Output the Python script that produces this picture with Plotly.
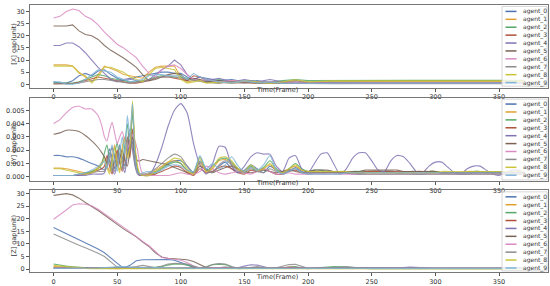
import plotly.graph_objects as go

AGENTS = ["agent_0", "agent_1", "agent_2", "agent_3", "agent_4",
          "agent_5", "agent_6", "agent_7", "agent_8", "agent_9"]
COLORS = ["#4c72b0", "#e0a030", "#55a868", "#b0503a", "#8172b3",
          "#7a6355", "#da8bc3", "#8c8c8c", "#c9c43a", "#7fb5d8"]

X_TICKS = [0, 50, 100, 150, 200, 250, 300, 350]

# ---- [X] gap ----
X_FRAMES = [0, 5, 10, 15, 20, 25, 30, 35, 40, 45, 50, 55, 60, 65, 70, 75, 80, 85, 90, 95,
            100, 105, 110, 115, 120, 130, 140, 150, 160, 170, 180, 190, 200,
            220, 250, 280, 310, 340, 370]
X_GAP_0 = [1, 0.5, 0.5, 1.5, 3.5, 4.5, 3.5, 5.5, 6, 4, 2.5, 1.5, 2, 3, 3.5, 4, 4.5, 5, 5, 4.5, 4.5, 3, 2, 3, 2.5,
           1.5, 2, 1, 1.5, 0.5, 1, 0.5, 0.8, 0.6, 0.6, 0.6, 0.6, 0.6, 0.6]
X_GAP_1 = [8, 8, 8, 7.5, 5, 3, 1, 4, 7.5, 6.5, 5.5, 4, 3.5, 3, 2.5, 5, 7, 7.5, 7.5, 7.5, 3, 1, 1.5, 2, 1,
           0.5, 1.5, 0.8, 0.3, 1, 0.5, 1.5, 0.8, 1.2, 1.2, 1.2, 1.2, 1.2, 1.2]
X_GAP_2 = [0.5, 0.5, 0.3, 0.5, 1, 2, 3, 4, 3.5, 2.5, 2, 1.5, 1, 1, 1.5, 2, 3, 3.5, 3.5, 3, 3, 2.5, 2, 1.5, 1,
           2, 1, 1.5, 1.2, 0.8, 1.5, 2, 1.5, 1.6, 1.6, 1.6, 1.6, 1.6, 1.6]
X_GAP_3 = [0.2, 0.2, 0.2, 0.3, 0.8, 1.5, 2.5, 3, 2.5, 2, 1.5, 1, 0.5, 0.5, 1, 1.5, 2.5, 3, 3, 2.5, 2, 1.5, 3.5, 3, 2,
           1, 0.5, 0.8, 0.4, 0.6, 0.3, 0.5, 0.3, 0.3, 0.3, 0.3, 0.3, 0.3, 0.3]
X_GAP_4 = [16, 16, 17, 17, 15.5, 13, 10, 7, 4.5, 2, 1, 2, 2.5, 1.5, 1, 2, 4, 6, 7.5, 10, 8, 4, 2, 3, 1.5,
           2.5, 1, 2, 1, 2, 1, 1.5, 0.8, 0.5, 0.5, 0.5, 0.5, 0.5, 0.5]
X_GAP_5 = [24, 24, 24, 24.5, 22, 20.5, 20, 18.5, 16, 14, 12.5, 10.8, 9, 7, 4, 1.5, 2, 3, 4, 4.5, 4, 1.5, 2.5, 2, 1,
           1.5, 0.8, 1.2, 0.5, 1, 0.5, 0.8, 0.4, 0.4, 0.4, 0.4, 0.4, 0.4, 0.4]
X_GAP_6 = [27.3, 28, 30, 31, 30.4, 28, 26.8, 24.5, 21.5, 19, 16.5, 15, 13, 11, 7.5, 4.5, 3, 6, 7.5, 8, 6.5, 4, 2, 1.5, 2,
           1, 1.5, 1, 0.8, 1, 0.6, 0.8, 0.5, 0.5, 0.5, 0.5, 0.5, 0.5, 0.5]
X_GAP_7 = [0.1, 0.1, 0.1, 0.2, 0.5, 1, 1.5, 2, 2, 1.5, 1, 0.8, 0.5, 0.8, 1.2, 2, 2.5, 3, 3, 3, 2.5, 2, 1.5, 1, 0.8,
           0.5, 1, 0.5, 0.8, 0.3, 0.5, 0.3, 0.2, 0.2, 0.2, 0.2, 0.2, 0.2, 0.2]
X_GAP_8 = [7.5, 7.5, 7.5, 7.5, 4.5, 3.5, 0.5, 3, 7, 7, 6, 5, 3, 2, 1, 4, 6.5, 7, 6.5, 6, 2, 0.5, 1, 1.5, 0.5,
           1, 0.5, 1.5, 1, 0.3, 1, 1.8, 1, 1.4, 1.4, 1.4, 1.4, 1.4, 1.4]
X_GAP_9 = [1, 1, 0, 0, 0.5, 2, 4, 6, 5.5, 5, 3, 2, 1, 1.5, 2, 3.5, 4, 4, 3.5, 3.5, 3.5, 2, 4.5, 3, 2,
           1, 0.5, 1.5, 0.5, 1, 0.3, 0.5, 0.3, 0.4, 0.4, 0.4, 0.4, 0.4, 0.4]

# ---- [Y] gap ----
Y_FRAMES = [0, 5, 10, 15, 20, 25, 30, 35, 38, 40, 42, 44, 46, 48, 50, 52, 54, 56, 58, 60, 62, 64, 66, 68, 70,
            75, 80, 85, 90, 95, 100, 105, 110, 115, 120, 125, 130, 135, 140, 145, 150, 155, 160, 165, 170,
            175, 180, 185, 190, 195, 200,
            205, 210, 215, 220, 225, 230, 235, 240, 245, 250, 255, 260, 265, 270, 275, 280, 285,
            290, 295, 300, 305, 310, 315, 320, 325, 330, 335, 340, 345, 350, 355, 360, 365, 370]
Y_GAP_0 = [0.0016, 0.0016, 0.0015, 0.0015, 0.0014, 0.0012, 0.0010, 0.0008, 0.0006, 0.0005, 0.0012, 0.0021, 0.0014, 0.0006, 0.0015, 0.0024, 0.0015, 0.0008, 0.0020, 0.0033, 0.0026, 0.0012, 0.0004, 0.0002, 0.0001,
           0.0002, 0.0004, 0.0007, 0.0010, 0.0012, 0.0012, 0.0008, 0.0003, 0.0012, 0.0006, 0.0004, 0.0008, 0.0011, 0.0006, 0.0003, 0.0005, 0.0009, 0.0006, 0.0003, 0.0008, 0.0005, 0.0002, 0.0004, 0.0007, 0.0004, 0.0003,
           0.0003, 0.0003, 0.0004, 0.0004, 0.0003, 0.0003, 0.0002, 0.0002, 0.0003, 0.0004, 0.0004, 0.0004, 0.0004, 0.0003, 0.0003, 0.0003, 0.0002,
           0.0002, 0.0003, 0.0003, 0.0003, 0.0003, 0.0003, 0.0002, 0.0002, 0.0003, 0.0003, 0.0003, 0.0003, 0.0003, 0.0003, 0.0003, 0.0003, 0.0003]
Y_GAP_1 = [0.00065, 0.00065, 0.0006, 0.0005, 0.0004, 0.0003, 0.0004, 0.0007, 0.0011, 0.0015, 0.0009, 0.0004, 0.0014, 0.0024, 0.0012, 0.0005, 0.0022, 0.0030, 0.0016, 0.0024, 0.0052, 0.0022, 0.0006, 0.0001, 0.0001,
           0.0002, 0.0005, 0.0008, 0.0011, 0.0012, 0.0010, 0.0004, 0.0002, 0.0010, 0.0004, 0.0006, 0.0012, 0.0013, 0.0010, 0.0005, 0.0004, 0.0007, 0.0004, 0.0006, 0.0009, 0.0005, 0.0004, 0.0006, 0.0008, 0.0005, 0.0004,
           0.0004, 0.0003, 0.0003, 0.0004, 0.0004, 0.0003, 0.0003, 0.0003, 0.0003, 0.0004, 0.0004, 0.0003, 0.0003, 0.0003, 0.0003, 0.0003, 0.0003,
           0.0004, 0.0004, 0.0004, 0.0003, 0.0003, 0.0003, 0.0003, 0.0004, 0.0004, 0.0004, 0.0003, 0.0003, 0.0003, 0.0003, 0.0004, 0.0004, 0.0004]
Y_GAP_2 = [0.0001, 0.0001, 0.0001, 0.0001, 0.0002, 0.0003, 0.0004, 0.0006, 0.0010, 0.0018, 0.0024, 0.0012, 0.0004, 0.0016, 0.0026, 0.0012, 0.0006, 0.0024, 0.0040, 0.0018, 0.0048, 0.0020, 0.0005, 0.0001, 0.0001,
           0.0001, 0.0003, 0.0006, 0.0009, 0.0011, 0.0010, 0.0005, 0.0003, 0.0015, 0.0005, 0.0008, 0.0013, 0.0014, 0.0011, 0.0006, 0.0004, 0.0008, 0.0005, 0.0007, 0.0012, 0.0006, 0.0003, 0.0006, 0.0010, 0.0006, 0.0004,
           0.0005, 0.0005, 0.0004, 0.0003, 0.0003, 0.0003, 0.0004, 0.0004, 0.0004, 0.0003, 0.0003, 0.0003, 0.0003, 0.0003, 0.0003, 0.0004, 0.0004,
           0.0004, 0.0004, 0.0004, 0.0003, 0.0003, 0.0003, 0.0003, 0.0003, 0.0004, 0.0004, 0.0004, 0.0004, 0.0004, 0.0004, 0.0004, 0.0004, 0.0004]
Y_GAP_3 = [0.0001, 0.0001, 0.0001, 0.0001, 0.0001, 0.0002, 0.0003, 0.0005, 0.0006, 0.0008, 0.0016, 0.0008, 0.0002, 0.0012, 0.0020, 0.0010, 0.0004, 0.0018, 0.0030, 0.0014, 0.0036, 0.0014, 0.0004, 0.0001, 0.0001,
           0.0001, 0.0002, 0.0004, 0.0006, 0.0008, 0.0007, 0.0003, 0.0001, 0.0006, 0.0003, 0.0004, 0.0007, 0.0008, 0.0006, 0.0003, 0.0002, 0.0005, 0.0004, 0.0006, 0.0004, 0.0002, 0.0002, 0.0004, 0.0005, 0.0003, 0.0002,
           0.0003, 0.0003, 0.0003, 0.0003, 0.0003, 0.0003, 0.0003, 0.0003, 0.0004, 0.0004, 0.0004, 0.0004, 0.0004, 0.0004, 0.0004, 0.0004, 0.0004,
           0.0004, 0.0003, 0.0003, 0.0003, 0.0003, 0.0003, 0.0003, 0.0003, 0.0003, 0.0003, 0.0003, 0.0003, 0.0003, 0.0003, 0.0003, 0.0003, 0.0003]
Y_GAP_4 = [0.0001, 0.0001, 0.0001, 0.0001, 0.0001, 0.0001, 0.0002, 0.0002, 0.0002, 0.0003, 0.0008, 0.0013, 0.0006, 0.0002, 0.0010, 0.0018, 0.0009, 0.0003, 0.0016, 0.0028, 0.0020, 0.0008, 0.0002, 0.0001, 0.0001,
           0.0001, 0.0009, 0.0022, 0.0038, 0.0050, 0.0055, 0.0048, 0.0025, 0.0009, 0.0002, 0.0010, 0.0023, 0.0022, 0.0008, 0.0003, 0.0008, 0.0015, 0.0018, 0.0017, 0.0017, 0.0008, 0.0004, 0.0014, 0.0016, 0.0006, 0.0003,
           0.0010, 0.0017, 0.0018, 0.0010, 0.0002, 0.0006, 0.0014, 0.0018, 0.0018, 0.0012, 0.0005, 0.0004, 0.0012, 0.0016, 0.0015, 0.0010, 0.0004,
           0.0003, 0.0008, 0.0011, 0.0011, 0.0007, 0.0003, 0.0002, 0.0006, 0.0008, 0.0008, 0.0005, 0.0002, 0.0001, 0.0003, 0.0005, 0.0005, 0.0003]
Y_GAP_5 = [0.0032, 0.0033, 0.0035, 0.0035, 0.0034, 0.0031, 0.0027, 0.0022, 0.0018, 0.0015, 0.0010, 0.0016, 0.0022, 0.0014, 0.0008, 0.0014, 0.0020, 0.0012, 0.0008, 0.0020, 0.0030, 0.0018, 0.0012, 0.0012, 0.0013,
           0.0012, 0.0011, 0.0010, 0.0009, 0.0007, 0.0005, 0.0003, 0.0002, 0.0008, 0.0005, 0.0003, 0.0005, 0.0007, 0.0008, 0.0006, 0.0004, 0.0003, 0.0004, 0.0005, 0.0004, 0.0003, 0.0004, 0.0005, 0.0004, 0.0003, 0.0004,
           0.0005, 0.0005, 0.0005, 0.0004, 0.0004, 0.0004, 0.0004, 0.0004, 0.0005, 0.0005, 0.0005, 0.0005, 0.0005, 0.0005, 0.0004, 0.0004, 0.0004,
           0.0004, 0.0004, 0.0004, 0.0003, 0.0003, 0.0003, 0.0003, 0.0003, 0.0003, 0.0003, 0.0003, 0.0003, 0.0003, 0.0003, 0.0003, 0.0003, 0.0003]
Y_GAP_6 = [0.0040, 0.0043, 0.0048, 0.0052, 0.0053, 0.0051, 0.0051, 0.0046, 0.0038, 0.0030, 0.0027, 0.0035, 0.0041, 0.0033, 0.0025, 0.0030, 0.0034, 0.0026, 0.0021, 0.0026, 0.0032, 0.0027, 0.0020, 0.0008, 0.0002,
           0.0001, 0.0001, 0.0001, 0.0001, 0.0002, 0.0003, 0.0002, 0.0002, 0.0004, 0.0008, 0.0006, 0.0003, 0.0002, 0.0003, 0.0004, 0.0003, 0.0002, 0.0004, 0.0006, 0.0004, 0.0002, 0.0002, 0.0003, 0.0002, 0.0002, 0.0002,
           0.0002, 0.0002, 0.0002, 0.0002, 0.0002, 0.0002, 0.0002, 0.0002, 0.0002, 0.0002, 0.0002, 0.0002, 0.0002, 0.0002, 0.0002, 0.0002, 0.0002,
           0.0002, 0.0002, 0.0002, 0.0002, 0.0002, 0.0002, 0.0002, 0.0002, 0.0002, 0.0002, 0.0002, 0.0002, 0.0002, 0.0002, 0.0002, 0.0002, 0.0002]
Y_GAP_7 = [0.0001, 0.0001, 0.0001, 0.0001, 0.0002, 0.0002, 0.0003, 0.0004, 0.0004, 0.0004, 0.0010, 0.0018, 0.0010, 0.0004, 0.0014, 0.0022, 0.0012, 0.0006, 0.0026, 0.0036, 0.0022, 0.0010, 0.0003, 0.0002, 0.0002,
           0.0003, 0.0006, 0.0010, 0.0014, 0.0017, 0.0015, 0.0008, 0.0003, 0.0011, 0.0005, 0.0003, 0.0009, 0.0012, 0.0009, 0.0004, 0.0003, 0.0006, 0.0004, 0.0003, 0.0006, 0.0004, 0.0003, 0.0005, 0.0006, 0.0003, 0.0003,
           0.0003, 0.0003, 0.0003, 0.0003, 0.0003, 0.0003, 0.0003, 0.0002, 0.0002, 0.0002, 0.0002, 0.0002, 0.0002, 0.0002, 0.0002, 0.0002, 0.0002,
           0.0002, 0.0002, 0.0002, 0.0002, 0.0002, 0.0002, 0.0002, 0.0002, 0.0002, 0.0002, 0.0002, 0.0002, 0.0002, 0.0002, 0.0002, 0.0002, 0.0002]
Y_GAP_8 = [0.0006, 0.0006, 0.0005, 0.0004, 0.0003, 0.0002, 0.0003, 0.0006, 0.0009, 0.0013, 0.0007, 0.0002, 0.0012, 0.0022, 0.0010, 0.0003, 0.0020, 0.0028, 0.0014, 0.0022, 0.0057, 0.0024, 0.0008, 0.0002, 0.0001,
           0.0001, 0.0004, 0.0007, 0.0011, 0.0014, 0.0013, 0.0006, 0.0002, 0.0014, 0.0004, 0.0007, 0.0014, 0.0015, 0.0012, 0.0006, 0.0004, 0.0009, 0.0005, 0.0006, 0.0010, 0.0005, 0.0003, 0.0006, 0.0009, 0.0005, 0.0004,
           0.0004, 0.0004, 0.0004, 0.0004, 0.0004, 0.0004, 0.0003, 0.0003, 0.0003, 0.0003, 0.0003, 0.0003, 0.0003, 0.0003, 0.0003, 0.0003, 0.0003,
           0.0003, 0.0003, 0.0003, 0.0004, 0.0004, 0.0004, 0.0004, 0.0004, 0.0004, 0.0004, 0.0004, 0.0004, 0.0004, 0.0004, 0.0004, 0.0004, 0.0004]
Y_GAP_9 = [0.0001, 0.0001, 0.0001, 0.0001, 0.0002, 0.0003, 0.0005, 0.0008, 0.0010, 0.0012, 0.0006, 0.0016, 0.0024, 0.0012, 0.0004, 0.0018, 0.0030, 0.0016, 0.0046, 0.0030, 0.0055, 0.0015, 0.0004, 0.0002, 0.0003,
           0.0004, 0.0003, 0.0005, 0.0008, 0.0009, 0.0008, 0.0005, 0.0004, 0.0016, 0.0006, 0.0010, 0.0006, 0.0009, 0.0015, 0.0008, 0.0004, 0.0007, 0.0005, 0.0009, 0.0016, 0.0005, 0.0002, 0.0004, 0.0006, 0.0003, 0.0002,
           0.0002, 0.0002, 0.0002, 0.0002, 0.0002, 0.0003, 0.0003, 0.0003, 0.0003, 0.0003, 0.0003, 0.0003, 0.0003, 0.0003, 0.0003, 0.0003, 0.0003,
           0.0003, 0.0003, 0.0003, 0.0003, 0.0003, 0.0003, 0.0003, 0.0003, 0.0003, 0.0003, 0.0003, 0.0003, 0.0003, 0.0003, 0.0003, 0.0003, 0.0003]

# ---- [Z] gap ----
Z_FRAMES = [0, 5, 10, 15, 20, 25, 30, 35, 40, 45, 50, 55, 60, 65, 70, 75, 80, 85, 90, 95, 100,
            105, 110, 115, 120, 125, 130, 135, 140, 145, 150, 155, 160, 165, 170, 175, 180, 185, 190, 195, 200,
            210, 220, 230, 240, 250, 260, 270, 280, 290, 300, 310, 320, 330, 340, 350, 360, 370]
Z_GAP_0 = [16.5, 15.3, 14.2, 13.0, 11.8, 10.6, 9.3, 8.0, 6.5, 4.5, 2.5, 0.3, 1.5, 3.3, 3.7, 3.8, 3.9, 4.0, 3.8, 3.5, 2.5,
           1.5, 0.8, 0.3, 0.3, 0.3, 0.3, 0.2, 0.3, 0.3, 0.3, 0.3, 0.3, 0.3, 0.3, 0.3, 0.3, 0.3, 0.3, 0.3, 0.3,
           0.3, 0.3, 0.3, 0.4, 0.5, 0.4, 0.3, 0.3, 0.3, 0.3, 0.3, 0.3, 0.3, 0.3, 0.3, 0.3, 0.3]
Z_GAP_1 = [1.0, 0.9, 0.8, 0.7, 0.6, 0.5, 0.4, 0.3, 0.2, 0.2, 0.2, 0.3, 0.3, 0.2, 0.2, 0.2, 0.3, 0.3, 0.3, 0.2, 0.2,
           0.2, 0.2, 0.2, 0.2, 0.2, 0.2, 0.2, 0.2, 0.2, 0.2, 0.2, 0.2, 0.2, 0.2, 0.2, 0.2, 0.2, 0.2, 0.2, 0.2,
           0.2, 0.2, 0.2, 0.2, 0.2, 0.2, 0.2, 0.2, 0.2, 0.2, 0.2, 0.2, 0.2, 0.2, 0.2, 0.2, 0.2]
Z_GAP_2 = [2.0, 1.5, 1.2, 0.9, 0.6, 0.4, 0.3, 0.3, 0.3, 0.5, 0.8, 0.6, 0.4, 0.3, 0.3, 0.4, 0.6, 1.0, 1.6, 2.0, 2.0,
           1.6, 0.8, 0.3, 0.9, 1.8, 2.0, 1.8, 0.8, 0.2, 0.3, 0.5, 0.4, 0.3, 0.2, 0.3, 0.5, 0.9, 1.0, 0.5, 0.2,
           0.6, 1.0, 0.9, 0.4, 0.2, 0.2, 0.2, 0.2, 0.2, 0.2, 0.2, 0.2, 0.2, 0.2, 0.2, 0.2, 0.2]
Z_GAP_3 = [0.5, 0.5, 0.4, 0.4, 0.3, 0.3, 0.3, 0.3, 0.3, 0.3, 0.4, 0.4, 0.3, 0.3, 0.3, 0.3, 0.3, 0.3, 0.4, 0.5, 0.5,
           0.4, 0.3, 0.3, 0.3, 0.4, 0.6, 0.5, 0.3, 0.3, 0.3, 0.3, 0.3, 0.3, 0.3, 0.3, 0.5, 0.8, 0.8, 0.5, 0.3,
           0.4, 0.5, 0.5, 0.4, 0.3, 0.3, 0.3, 0.3, 0.3, 0.3, 0.3, 0.3, 0.3, 0.3, 0.3, 0.3, 0.3]
Z_GAP_4 = [0.4, 0.4, 0.3, 0.3, 0.3, 0.3, 0.3, 0.3, 0.3, 0.3, 0.5, 0.8, 0.6, 0.4, 0.3, 0.3, 0.3, 0.3, 0.3, 0.3, 0.3,
           0.3, 0.3, 0.3, 0.3, 0.3, 0.3, 0.3, 0.3, 0.5, 1.2, 1.7, 1.6, 0.9, 0.3, 0.3, 0.3, 0.4, 0.5, 0.4, 0.3,
           0.3, 0.4, 0.3, 0.3, 0.5, 0.6, 0.4, 0.8, 0.5, 0.3, 0.3, 0.3, 0.4, 0.3, 0.3, 0.3, 0.3]
Z_GAP_5 = [29.3, 29.8, 30.0, 29.5, 28.2, 26.5, 25.0, 23.3, 21.5, 19.8, 17.8, 16.0, 14.5, 12.8, 10.8, 9.0, 6.5, 4.8, 4.3, 4.1, 4.0,
           3.7, 3.0, 1.8, 0.6, 0.3, 0.5, 0.8, 0.5, 0.3, 0.3, 0.5, 0.6, 0.4, 0.3, 0.3, 0.4, 0.5, 0.4, 0.3, 0.3,
           0.3, 0.3, 0.4, 0.4, 0.3, 0.3, 0.3, 0.3, 0.3, 0.3, 0.3, 0.3, 0.3, 0.3, 0.3, 0.3, 0.3]
Z_GAP_6 = [19.8, 21.5, 23.5, 25.5, 26.0, 25.8, 25.2, 23.8, 22.0, 20.2, 18.5, 16.8, 14.8, 13.0, 11.0, 9.3, 7.0, 4.6, 4.2, 4.0, 3.5,
           2.6, 1.2, 0.4, 0.3, 0.4, 0.5, 0.4, 0.3, 0.3, 0.3, 0.4, 0.4, 0.3, 0.3, 0.3, 0.3, 0.4, 0.3, 0.3, 0.3,
           0.3, 0.3, 0.3, 0.3, 0.3, 0.3, 0.3, 0.3, 0.3, 0.3, 0.3, 0.3, 0.3, 0.3, 0.3, 0.3, 0.3]
Z_GAP_7 = [14.0, 12.8, 11.6, 10.5, 9.5, 8.5, 7.5, 6.3, 5.0, 3.0, 0.8, 0.3, 0.5, 1.0, 1.5, 1.0, 0.6, 1.2, 2.0, 2.3, 2.2,
           2.0, 1.2, 0.4, 0.8, 1.8, 2.2, 2.0, 1.0, 0.3, 0.4, 0.8, 1.0, 0.6, 0.3, 0.5, 1.2, 1.8, 1.9, 1.0, 0.3,
           0.3, 0.6, 0.9, 0.5, 0.3, 0.3, 0.3, 0.3, 0.3, 0.3, 0.3, 0.3, 0.3, 0.3, 0.3, 0.3, 0.3]
Z_GAP_8 = [1.5, 1.2, 0.9, 0.6, 0.4, 0.3, 0.2, 0.2, 0.2, 0.3, 0.4, 0.3, 0.2, 0.2, 0.2, 0.2, 0.3, 0.4, 0.3, 0.2, 0.2,
           0.2, 0.2, 0.2, 0.3, 0.4, 0.4, 0.3, 0.2, 0.2, 0.2, 0.2, 0.2, 0.2, 0.2, 0.2, 0.2, 0.2, 0.2, 0.2, 0.2,
           0.2, 0.2, 0.2, 0.2, 0.2, 0.2, 0.2, 0.2, 0.2, 0.2, 0.2, 0.2, 0.2, 0.2, 0.2, 0.2, 0.2]
Z_GAP_9 = [0.3, 0.3, 0.3, 0.3, 0.3, 0.3, 0.4, 0.5, 0.6, 0.8, 1.0, 1.0, 0.8, 0.6, 0.5, 0.5, 0.6, 0.6, 0.5, 0.4, 0.4,
           0.3, 0.3, 0.3, 0.3, 0.4, 0.5, 0.4, 0.3, 0.3, 0.3, 0.3, 0.3, 0.3, 0.3, 0.3, 0.3, 0.3, 0.3, 0.3, 0.3,
           0.3, 0.3, 0.3, 0.3, 0.3, 0.3, 0.3, 0.3, 0.3, 0.3, 0.3, 0.3, 0.3, 0.3, 0.3, 0.3, 0.3]

X_SERIES = [X_GAP_0, X_GAP_1, X_GAP_2, X_GAP_3, X_GAP_4, X_GAP_5, X_GAP_6, X_GAP_7, X_GAP_8, X_GAP_9]
Y_SERIES = [Y_GAP_0, Y_GAP_1, Y_GAP_2, Y_GAP_3, Y_GAP_4, Y_GAP_5, Y_GAP_6, Y_GAP_7, Y_GAP_8, Y_GAP_9]
Z_SERIES = [Z_GAP_0, Z_GAP_1, Z_GAP_2, Z_GAP_3, Z_GAP_4, Z_GAP_5, Z_GAP_6, Z_GAP_7, Z_GAP_8, Z_GAP_9]

W, H = 550, 286
FONT = "DejaVu Sans"
TXT = "#333333"

# frames, series, y title, y range, y ticks, tick format, top px, bottom px, y-title py, x-title py
PANELS = [
    (X_FRAMES, X_SERIES, "[X] gap(unit)", [-1.4, 32.7], [0, 5, 10, 15, 20, 25, 30], "d", 5, 88.3, 44, 91),
    (Y_FRAMES, Y_SERIES, "[Y] gap(unit)", [-0.00035, 0.00595],
     [0, 0.001, 0.002, 0.003, 0.004, 0.005], ".3f", 98.3, 182.7, 145, 184.5),
    (Z_FRAMES, Z_SERIES, "[Z] gap(unit)", [-1.3, 31.3], [0, 5, 10, 15, 20, 25, 30], "d", 191.7, 274.3, 237, 278.5),
]


def px_x(p):
    return p / W


def px_y(p):
    return 1 - p / H


fig = go.Figure()
layout = dict(
    width=W, height=H,
    margin=dict(l=0, r=0, t=0, b=0),
    paper_bgcolor="white", plot_bgcolor="white",
    showlegend=False,
    font=dict(family=FONT, size=6, color=TXT),
)
annotations = []
shapes = []

for k, (frames, series, ytitle, yrange, yticks, yfmt, top, bottom, title_py, xt_py) in enumerate(PANELS):
    sfx = "" if k == 0 else str(k + 1)
    for i, vals in enumerate(series):
        assert len(vals) == len(frames), (ytitle, i, len(vals), len(frames))
        fig.add_trace(go.Scatter(
            x=frames, y=vals, mode="lines", name=AGENTS[i],
            xaxis="x" + sfx, yaxis="y" + sfx,
            line=dict(color=COLORS[i], width=1.1, shape="spline" if k == 1 else "linear", smoothing=0.6),
            opacity=0.85,
        ))
    layout["xaxis" + sfx] = dict(
        domain=[px_x(30), px_x(548)], anchor="y" + sfx, range=[-18.5, 388.5],
        tickvals=X_TICKS, ticks="outside", ticklen=3, tickwidth=0.8, tickcolor="#555",
        tickfont=dict(size=6.5, color=TXT, family=FONT),
        showline=True, mirror=True, linecolor="#777", linewidth=1,
        showgrid=False, zeroline=False,
    )
    layout["yaxis" + sfx] = dict(
        domain=[px_y(bottom), px_y(top)], anchor="x" + sfx, range=yrange,
        tickvals=yticks, tickformat=yfmt, ticks="outside", ticklen=3, tickwidth=0.8, tickcolor="#555",
        tickfont=dict(size=6.5, color=TXT, family=FONT),
        showline=True, mirror=True, linecolor="#777", linewidth=1,
        showgrid=False, zeroline=False,
    )
    # axis titles
    annotations.append(dict(
        text=ytitle, xref="paper", yref="paper", x=px_x(14), y=px_y(title_py),
        textangle=-90, showarrow=False, xanchor="center", yanchor="middle",
        font=dict(size=6.5, color=TXT, family=FONT),
    ))
    annotations.append(dict(
        text="Time(Frame)", xref="paper", yref="paper", x=px_x(277), y=px_y(xt_py),
        showarrow=False, xanchor="center", yanchor="middle",
        font=dict(size=6.5, color=TXT, family=FONT),
    ))
    # legend box, drawn by hand so the rows stay as tight as in the original
    shapes.append(dict(
        type="rect", xref="paper", yref="paper", layer="above",
        x0=px_x(502), x1=px_x(547), y0=px_y(bottom - 1.5), y1=px_y(top + 1.5),
        fillcolor="rgba(255,255,255,0.8)", line=dict(color="#cccccc", width=0.8),
    ))
    for i, name in enumerate(AGENTS):
        ry = top + 6.5 + 7.96 * i
        shapes.append(dict(
            type="line", xref="paper", yref="paper", layer="above",
            x0=px_x(505.5), x1=px_x(516.5), y0=px_y(ry), y1=px_y(ry),
            line=dict(color=COLORS[i], width=1.5),
        ))
        annotations.append(dict(
            text=name, xref="paper", yref="paper", x=px_x(520.5), y=px_y(ry),
            showarrow=False, xanchor="left", yanchor="middle",
            font=dict(size=6, color=TXT, family=FONT),
        ))

layout["annotations"] = annotations
layout["shapes"] = shapes
fig.update_layout(**layout)

fig.write_html(
    "out.html",
    config={"displayModeBar": False},
    post_script="document.body.style.margin='0';document.body.style.overflow='hidden';",
)
